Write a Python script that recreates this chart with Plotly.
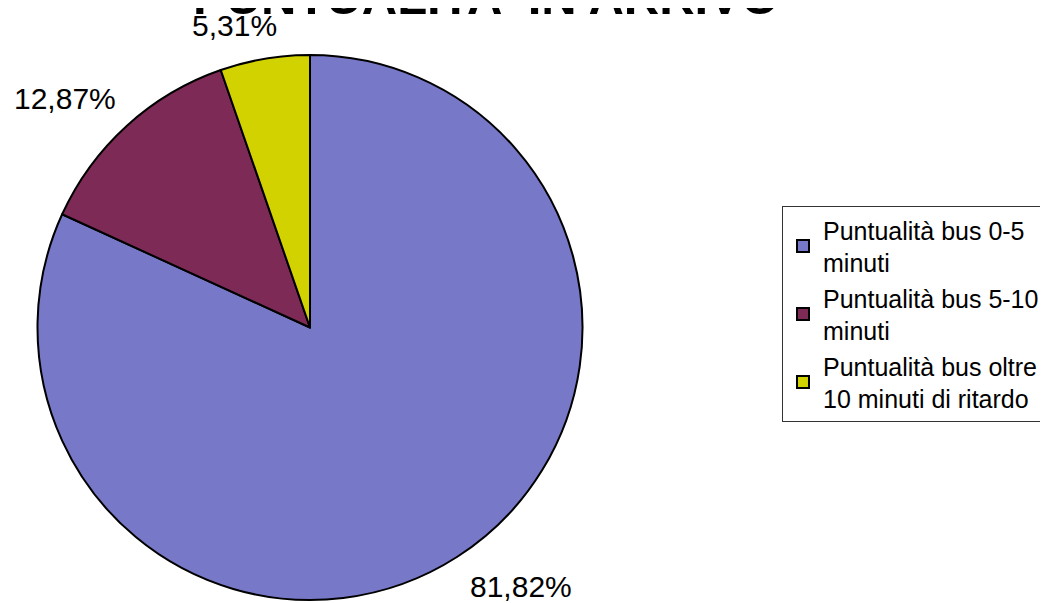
import plotly.graph_objects as go

# Data
labels = [
    "Puntualità bus 0-5<br>minuti",
    "Puntualità bus 5-10<br>minuti",
    "Puntualità bus oltre<br>10 minuti di ritardo",
]
values = [81.82, 12.87, 5.31]
slice_colors = ["#7878C8", "#7D2B56", "#D2D200"]

# where the Excel-style percent labels sit (pixels from figure top-left)
label_pos = [(513, 578), (57, 91), (226, 18)]

W, H = 1048, 603
FONT = "Liberation Sans, Arial, sans-serif"

fig = go.Figure(go.Pie(
    labels=labels,
    values=values,
    sort=False,
    direction="clockwise",
    rotation=0,
    marker=dict(colors=slice_colors, line=dict(color="black", width=2)),
    textinfo="none",
    domain=dict(x=[29 / W, 575 / W], y=[1 - 592 / H, 1 - 47 / H]),
    hoverinfo="label+percent",
))

total = sum(values)
for v, (px_, py_) in zip(values, label_pos):
    pct = f"{v / total * 100:.2f}".replace(".", ",") + "%"
    fig.add_annotation(
        text=pct, x=px_ / W, y=1 - py_ / H, xref="paper", yref="paper",
        xanchor="center", yanchor="middle", showarrow=False,
        font=dict(size=30, family=FONT, color="black"),
    )

fig.update_layout(
    width=W, height=H,
    margin=dict(l=0, r=0, t=0, b=0, autoexpand=False),
    paper_bgcolor="white",
    separators=",.",
    font=dict(family=FONT, color="black"),
    title=dict(
        text="<b>PUNTUALITA' IN ARRIVO</b>",
        font=dict(size=49, family=FONT, color="black"),
        x=478 / W, xanchor="center", xref="container",
        y=1 - 6 / H, yanchor="bottom", yref="container",
    ),
    showlegend=True,
    legend=dict(
        x=774 / W, xanchor="left", xref="container",
        y=1 - 198 / H, yanchor="top", yref="container",
        font=dict(size=25, family=FONT, color="black"),
        bordercolor="#333333", borderwidth=1, bgcolor="white",
        traceorder="normal",
    ),
)

fig.write_html("out.html")
